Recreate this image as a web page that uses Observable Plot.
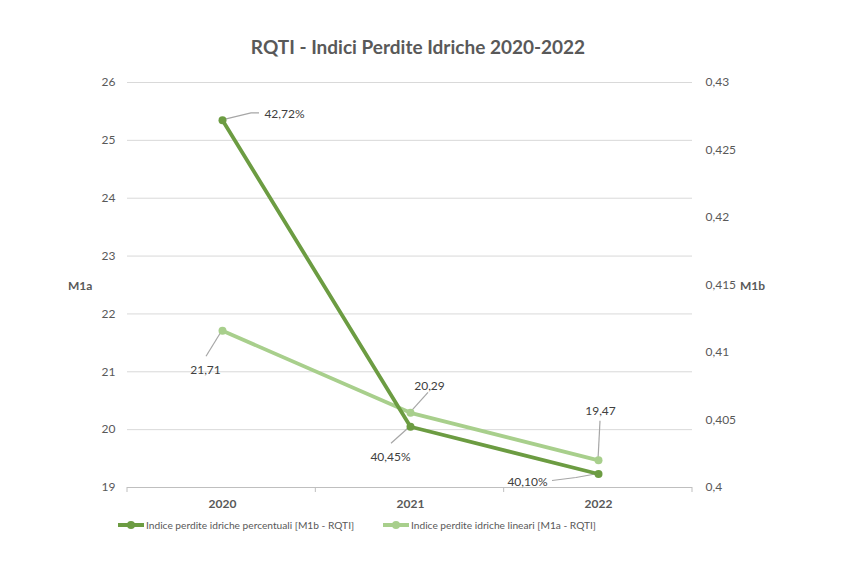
<!DOCTYPE html>
<html><head><meta charset="utf-8">
<script src="https://cdn.jsdelivr.net/npm/d3@7"></script>
<script src="https://cdn.jsdelivr.net/npm/@observablehq/plot@0.6"></script>
<style>
body{margin:0;background:#fff;font-family:Lato,"Open Sans",sans-serif;}
#wrap{position:relative;width:864px;height:570px;overflow:hidden;}
#title{position:absolute;top:34px;left:0;width:836px;text-align:center;font-weight:bold;font-size:19px;color:#595959;line-height:26px;}
#chart{position:absolute;top:62px;left:0;}
.axlab{position:absolute;font-weight:bold;font-size:12px;color:#595959;line-height:14px;}
#legend{position:absolute;top:517px;left:0;width:864px;height:16px;font-size:10.2px;color:#595959;}
.li{position:absolute;top:0;display:flex;align-items:center;height:16px;white-space:nowrap;}
.sw{position:relative;width:26px;height:16px;margin-right:2px;}
.sw .ln{position:absolute;left:0;top:6px;width:26px;height:3.5px;}
.sw .mk{position:absolute;left:9px;top:3.5px;width:8px;height:8px;border-radius:50%;}
</style></head>
<body>
<div id="wrap">
  <div id="title">RQTI - Indici Perdite Idriche 2020-2022</div>
  <div id="chart"></div>
  <div class="axlab" style="left:68px;top:279px;">M1a</div>
  <div class="axlab" style="left:740px;top:279px;">M1b</div>
  <div id="legend"></div>
</div>
<script>
// ---- data ----
const years = ["2020", "2021", "2022"];
const m1b = [0.4272, 0.4045, 0.4010];        // Indice perdite idriche percentuali (right axis)
const m1a = [21.71, 20.29, 19.47];           // Indice perdite idriche lineari (left axis)
const m1bLabels = ["42,72%", "40,45%", "40,10%"];
const m1aLabels = ["21,71", "20,29", "19,47"];
const leftTicks = [19, 20, 21, 22, 23, 24, 25, 26];
const rightTicks = [0.4, 0.405, 0.41, 0.415, 0.42, 0.425, 0.43];
const seriesNames = ["Indice perdite idriche percentuali [M1b - RQTI]", "Indice perdite idriche lineari [M1a - RQTI]"];

// ---- styles ----
const darkGreen = "#6c9c42";
const lightGreen = "#a8cf8c";
const leaderColor = "#a6a6a6";
// label offsets (px) and leader-line bends relative to each point
const m1bOff = [{dx: 62, dy: -6, path: [[0,0],[29,-7],[37,-7]]},
                {dx: -20, dy: 30, path: [[0,0],[-19,17]]},
                {dx: -71, dy: 8, path: [[0,0],[-22,4],[-46,7]]}];
const m1aOff = [{dx: -17, dy: 39, path: [[0,0],[-16,26]]},
                {dx: 19, dy: -27, path: [[0,0],[18,-20]]},
                {dx: 2, dy: -49, path: [[0,0],[2,-39]]}];

// ---- dual axis mapping (right -> left units) ----
const [lMin, lMax] = [19, 26];
const [rMin, rMax] = [0.4, 0.43];
const toLeft = v => lMin + (v - rMin) / (rMax - rMin) * (lMax - lMin);
const fromLeft = v => rMin + (v - lMin) / (lMax - lMin) * (rMax - rMin);

const itLocale = d3.formatLocale({decimal: ",", thousands: ".", grouping: [3], currency: ["€", ""]});
const fmtR = itLocale.format(".3~f");

const data = years.map((y, i) => ({
  year: y, m1a: m1a[i], m1b: m1b[i], m1bL: toLeft(m1b[i]),
  la: m1aLabels[i], lb: m1bLabels[i], oa: m1aOff[i], ob: m1bOff[i]
}));

function leaders(index, scales, values, dimensions) {
  const g = d3.create("svg:g");
  const {marginLeft, marginRight, width, height, marginBottom} = dimensions;
  // category boundary ticks on the baseline
  const n = years.length, step = (width - marginLeft - marginRight) / n;
  for (let i = 0; i <= n; i++) {
    const x = marginLeft + i * step;
    g.append("line").attr("x1", x).attr("x2", x)
      .attr("y1", height - marginBottom).attr("y2", height - marginBottom + 5)
      .attr("stroke", "#bfbfbf").attr("stroke-width", 1);
  }
  const draw = (d, yv, off) => {
    const px = scales.x(d.year), py = scales.y(yv);
    g.append("polyline")
      .attr("points", off.path.map(([a, b]) => `${px + a},${py + b}`).join(" "))
      .attr("fill", "none").attr("stroke", leaderColor).attr("stroke-width", 1.2);
  };
  data.forEach(d => { draw(d, d.m1bL, d.ob); draw(d, d.m1a, d.oa); });
  return g.node();
}

const chart = Plot.plot({
  width: 864,
  height: 453,
  marginLeft: 127,
  marginRight: 172,
  marginTop: 20,
  marginBottom: 28,
  style: {fontFamily: "Lato, 'Open Sans', sans-serif", fontSize: "12px", color: "#595959", background: "white"},
  x: {type: "point", domain: years, padding: 0.5, axis: null},
  y: {domain: [lMin, lMax], axis: null},
  marks: [
    Plot.ruleY(leftTicks.filter(t => t > lMin), {stroke: "#d9d9d9", strokeWidth: 1}),
    Plot.ruleY([lMin], {stroke: "#bfbfbf", strokeWidth: 1}),
    Plot.axisY({anchor: "left", ticks: leftTicks, tickSize: 0, tickPadding: 12, label: null, fontSize: 12,
      tickFormat: d => String(d)}),
    Plot.axisY({anchor: "right", ticks: rightTicks.map(toLeft), tickSize: 0, tickPadding: 13, label: null,
      tickFormat: d => fmtR(+fromLeft(d).toFixed(4)), fontSize: 12}),
    Plot.text(years, {x: d => d, frameAnchor: "bottom", dy: 20, text: d => d, fontWeight: "bold", fontSize: 12, fill: "#595959"}),
    leaders,
    Plot.line(data, {x: "year", y: "m1a", stroke: lightGreen, strokeWidth: 3.8}),
    Plot.dot(data, {x: "year", y: "m1a", r: 4, fill: lightGreen}),
    Plot.line(data, {x: "year", y: "m1bL", stroke: darkGreen, strokeWidth: 3.8}),
    Plot.dot(data, {x: "year", y: "m1bL", r: 4, fill: darkGreen}),
    ...data.map(d => Plot.text([d], {x: "year", y: "m1bL", text: "lb", dx: d.ob.dx, dy: d.ob.dy, fill: "#404040", fontSize: 12})),
    ...data.map(d => Plot.text([d], {x: "year", y: "m1a", text: "la", dx: d.oa.dx, dy: d.oa.dy, fill: "#404040", fontSize: 12}))
  ]
});
document.getElementById("chart").appendChild(chart);

// legend
const legend = document.getElementById("legend");
const legendPos = [118, 383];
[[darkGreen, seriesNames[0]], [lightGreen, seriesNames[1]]].forEach(([c, name], i) => {
  const item = document.createElement("div");
  item.className = "li";
  item.style.left = legendPos[i] + "px";
  item.innerHTML = `<div class="sw"><div class="ln" style="background:${c}"></div><div class="mk" style="background:${c}"></div></div><span>${name}</span>`;
  legend.appendChild(item);
});
</script>
</body></html>
